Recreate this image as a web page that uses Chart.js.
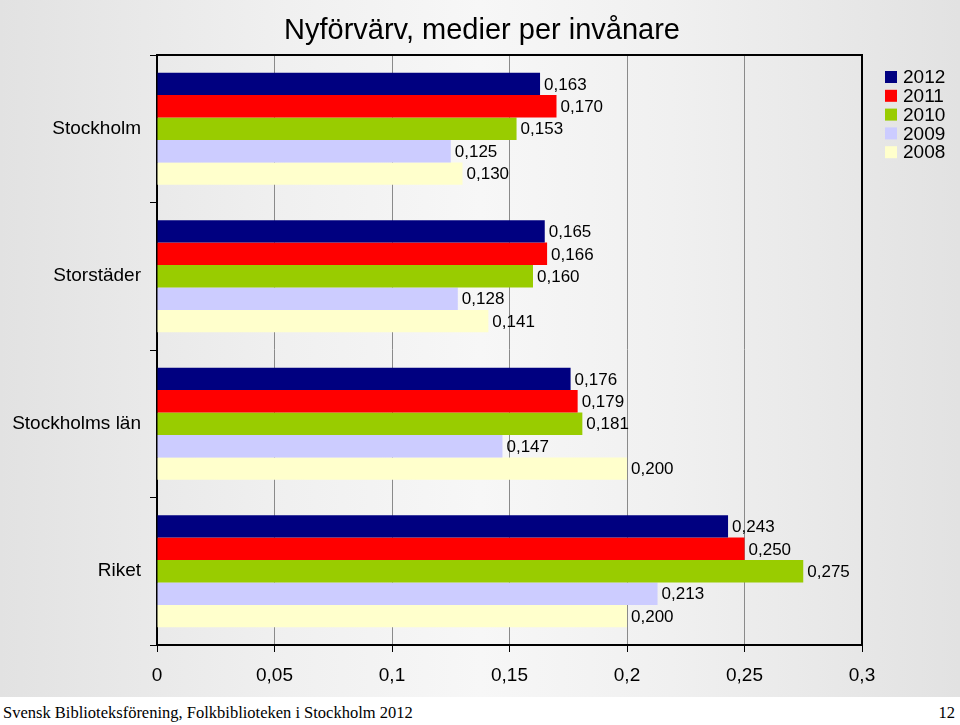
<!DOCTYPE html>
<html>
<head>
<meta charset="utf-8">
<script src="https://cdn.jsdelivr.net/npm/chart.js@4/dist/chart.umd.min.js"></script>
<style>
  html, body { margin: 0; padding: 0; background: #fff; }
  #wrap { position: relative; width: 960px; height: 697px;
    background: linear-gradient(to right, #e2e2e2 0%, #f0f0f0 30%, #f7f7f7 50%, #f0f0f0 70%, #e2e2e2 100%); }
  #footer { position: relative; width: 960px; height: 28px; background: #fff;
    font-family: "Liberation Serif", "Times New Roman", serif; font-size: 16.5px; color: #000; }
  #footer .l { position: absolute; left: 3px; top: 6px; }
  #footer .r { position: absolute; right: 5px; top: 6px; }
</style>
</head>
<body>
<div id="wrap"><canvas id="c" width="960" height="697"></canvas></div>
<div id="footer"><span class="l">Svensk Biblioteksförening, Folkbiblioteken i Stockholm 2012</span><span class="r">12</span></div>
<script>
const titleText = 'Nyförvärv, medier per invånare';
const categories = ['Stockholm', 'Storstäder', 'Stockholms län', 'Riket'];
const seriesNames = ['2012', '2011', '2010', '2009', '2008'];
const seriesColors = ['#000080', '#FF0000', '#99CC00', '#CCCCFF', '#FFFFCC'];
const values2012 = [0.163, 0.165, 0.176, 0.243];
const values2011 = [0.170, 0.166, 0.179, 0.250];
const values2010 = [0.153, 0.160, 0.181, 0.275];
const values2009 = [0.125, 0.128, 0.147, 0.213];
const values2008 = [0.130, 0.141, 0.200, 0.200];
const xTickLabels = ['0', '0,05', '0,1', '0,15', '0,2', '0,25', '0,3'];

const seriesValues = [values2012, values2011, values2010, values2009, values2008];
const FONT = '"Liberation Sans", Arial, sans-serif';

const datasets = seriesNames.map((name, i) => ({
  label: name,
  data: seriesValues[i],
  backgroundColor: seriesColors[i],
  borderWidth: 0,
  categoryPercentage: 0.76,
  barPercentage: 1.0
}));

const decorPlugin = {
  id: 'decor',
  afterDraw(chart) {
    const ctx = chart.ctx;
    const a = chart.chartArea;
    ctx.save();
    // plot border (top and right)
    ctx.strokeStyle = '#000';
    ctx.lineWidth = 2;
    ctx.beginPath();
    ctx.moveTo(a.left, a.top);
    ctx.lineTo(a.right, a.top);
    ctx.lineTo(a.right, a.bottom);
    ctx.stroke();
    // title
    ctx.fillStyle = '#000';
    ctx.font = '29px ' + FONT;
    ctx.textAlign = 'center';
    ctx.textBaseline = 'middle';
    ctx.fillText(titleText, 482, 31);
    // value labels
    ctx.font = '17px ' + FONT;
    ctx.textAlign = 'left';
    chart.data.datasets.forEach((ds, di) => {
      const meta = chart.getDatasetMeta(di);
      meta.data.forEach((bar, j) => {
        const v = ds.data[j];
        ctx.fillText(v.toFixed(3).replace('.', ','), bar.x + 4, bar.y + 1);
      });
    });
    // legend
    ctx.font = '19px ' + FONT;
    chart.data.datasets.forEach((ds, di) => {
      const cy = 77 + di * 18.8;
      ctx.fillStyle = ds.backgroundColor;
      ctx.fillRect(885, cy - 6, 12, 12);
      ctx.fillStyle = '#000';
      ctx.fillText(ds.label, 903, cy + 1);
    });
    ctx.restore();
  }
};

new Chart(document.getElementById('c'), {
  type: 'bar',
  data: { labels: categories, datasets },
  options: {
    indexAxis: 'y',
    responsive: false,
    animation: false,
    layout: { padding: { left: 0, right: 98, top: 55, bottom: 0 } },
    plugins: { legend: { display: false }, title: { display: false }, tooltip: { enabled: false } },
    scales: {
      x: {
        min: 0, max: 0.3,
        ticks: {
          stepSize: 0.05,
          color: '#000',
          font: { family: FONT, size: 19 },
          padding: 12,
          callback: (v, i) => xTickLabels[i]
        },
        grid: { color: '#8a8a8a', lineWidth: 1, tickColor: '#000', tickLength: 7, drawTicks: true },
        border: { color: '#000', width: 2 },
        afterFit(scale) { scale.height = 52; }
      },
      y: {
        ticks: { color: '#000', font: { family: FONT, size: 19 }, padding: 9 },
        grid: { drawOnChartArea: false, tickColor: '#000', tickLength: 7, offset: true },
        border: { color: '#000', width: 2 },
        afterFit(scale) { scale.width = 157; }
      }
    }
  },
  plugins: [decorPlugin]
});
</script>
</body>
</html>
